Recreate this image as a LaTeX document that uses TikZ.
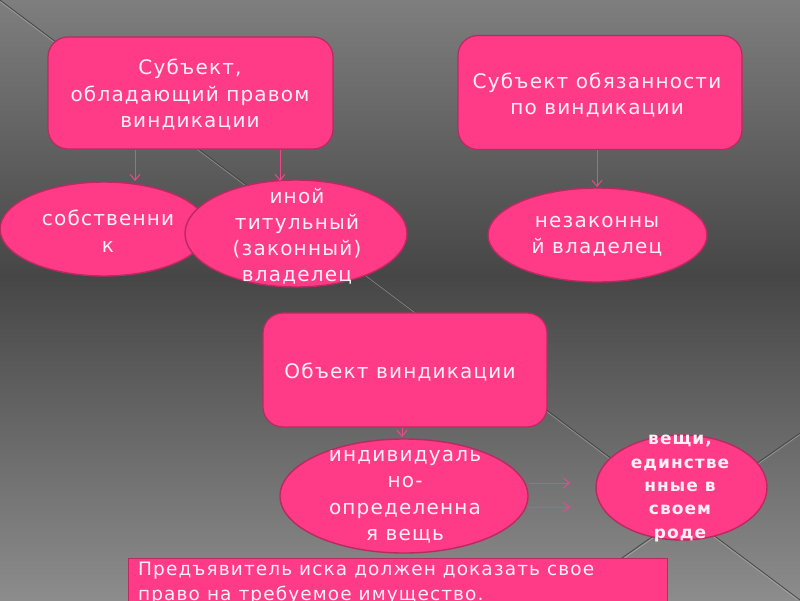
\documentclass[tikz,border=0pt]{standalone}
\usepackage{fontspec}
\setmainfont{DejaVu Sans}[LetterSpace=6]
\usetikzlibrary{shapes.geometric,arrows.meta}
\definecolor{pk}{RGB}{255,58,135}
\definecolor{pkline}{RGB}{185,42,96}
\definecolor{arrc}{RGB}{240,70,135}
\definecolor{txtc}{RGB}{255,240,246}
\definecolor{bgtop}{RGB}{126,126,126}
\definecolor{bgmid}{RGB}{70,70,70}
\definecolor{bgbot}{RGB}{140,140,140}
\begin{document}
\begin{tikzpicture}[x=1pt,y=-1pt,
  pinkbox/.style={draw=pkline, line width=1.2pt, fill=pk, rounded corners=20pt, rectangle, inner sep=0pt},
  pinkell/.style={draw=pkline, line width=1.4pt, fill=pk, ellipse, inner sep=0pt},
  lbl/.style={text=txtc, align=center, font=\fontsize{20}{26.5}\selectfont, inner sep=0pt},
  arr/.style={draw=arrc, line width=1pt, -{Straight Barb[length=6pt,width=10pt]}},
  diag/.style={draw=black!72, line width=0.8pt},
  diaglight/.style={draw=white!70!gray, line width=0.5pt, opacity=0.5}]
\useasboundingbox (0,0) rectangle (800,600);
\clip (0,0) rectangle (800,600);
% background
\shade[top color=bgtop, bottom color=bgmid] (0,0) rectangle (800,276);
\shade[top color=bgmid, bottom color=bgbot] (0,275) rectangle (800,600);
\draw[diaglight] (0,1.5) -- (798,600);
\draw[diag] (0,0) -- (800,600);
\draw[diaglight] (800,434.5) -- (563.5,601);
\draw[diag] (800,433) -- (562,600);
% boxes
\node[pinkbox, minimum width=285pt, minimum height=112pt] (b1) at (190.5,93) {};
\node[pinkbox, minimum width=284pt, minimum height=114pt] (b2) at (600,92.5) {};
\node[pinkbox, minimum width=284pt, minimum height=114pt] (b3) at (405,370) {};
% ellipses
\node[pinkell, minimum width=208pt, minimum height=94pt] (e1) at (104,229) {};
\node[pinkell, minimum width=222pt, minimum height=107pt] (e2) at (296,233.5) {};
\node[pinkell, minimum width=219pt, minimum height=94pt] (e3) at (597.5,235) {};
\node[pinkell, minimum width=248pt, minimum height=114pt] (e4) at (404,496) {};
\node[pinkell, minimum width=171pt, minimum height=105pt] (e5) at (681.5,487.5) {};
% bottom box
\node[draw=pkline, line width=1.2pt, fill=pk, rectangle, inner sep=0pt,
      minimum width=539pt, minimum height=62pt, anchor=north west] (bb) at (128,558) {};
% texts
\node[lbl] (t1) at (190,95) {Субъект,\\обладающий правом\\виндикации};
\node[lbl] (t2) at (597,95) {Субъект обязанности\\по виндикации};
\node[lbl] (t3) at (400,372) {Объект виндикации};
\node[lbl] (te1) at (108,231) {собственни\\к};
\node[lbl, font=\fontsize{20}{26}\selectfont] (te2) at (297,236) {иной\\титульный\\(законный)\\владелец};
\node[lbl] (te3) at (597,236.5) {незаконны\\й владелец};
\node[lbl] (te4) at (405,497) {индивидуаль\\но-\\определенна\\я вещь};
\node[lbl, font=\fontsize{17}{23.3}\selectfont\bfseries] (te5) at (680,488.5) {вещи,\\единстве\\нные в\\своем\\роде};
\node[lbl, align=left, font=\fontsize{18.5}{25}\selectfont, anchor=base west] (tb) at (138,600)
  {Предъявитель иска должен доказать свое\\право на требуемое имущество.};
% arrows
\coordinate (a1) at (135,181);
\coordinate (a2) at (280,181);
\coordinate (a3) at (597,187);
\coordinate (a4) at (402,437);
\coordinate (a5) at (570,483);
\coordinate (a6) at (570,507);
\draw[arr] (b1.south -| a1) -- (a1);
\draw[arr] (b1.south -| a2) -- (a2);
\draw[arr] (b2.south -| a3) -- (a3);
\draw[arr] (b3.south -| a4) -- (a4);
\draw[arr] (e4.east |- a5) -- (a5);
\draw[arr] (e4.east |- a6) -- (a6);
\end{tikzpicture}
\end{document}
